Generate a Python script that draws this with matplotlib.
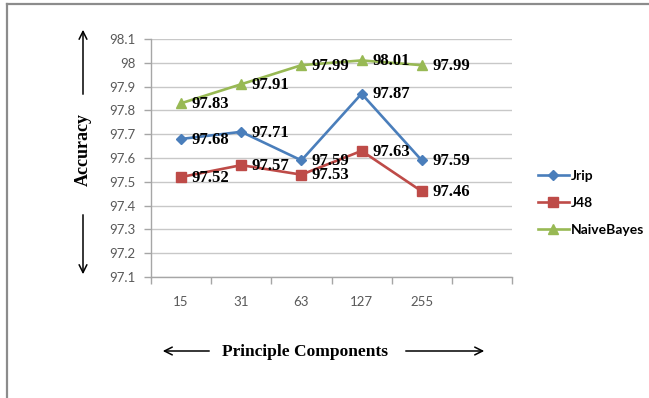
import matplotlib
matplotlib.use("Agg")
import matplotlib.pyplot as plt
from matplotlib.lines import Line2D

# Data
components = ["15", "31", "63", "127", "255", ""]
jrip = [97.68, 97.71, 97.59, 97.87, 97.59]
j48 = [97.52, 97.57, 97.53, 97.63, 97.46]
naive_bayes = [97.83, 97.91, 97.99, 98.01, 97.99]
series_names = ["Jrip", "J48", "NaiveBayes"]
y_ticks = [97.1, 97.2, 97.3, 97.4, 97.5, 97.6, 97.7, 97.8, 97.9, 98.0, 98.1]
y_tick_labels = ["97.1", "97.2", "97.3", "97.4", "97.5", "97.6", "97.7", "97.8", "97.9", "98", "98.1"]

W, H = 649, 398
fig = plt.figure(figsize=(W / 100, H / 100), dpi=100)
fig.patch.set_facecolor("white")

def fx(px):
    return px / W

def fy(py):
    return 1 - py / H

# Outer frame (top and left edges)
fig.add_artist(Line2D([fx(7), 1.0], [fy(4), fy(4)], color="#8c8c8c", lw=1.6))
fig.add_artist(Line2D([fx(7), fx(7)], [fy(4), 0.0], color="#8c8c8c", lw=1.6))

ax = fig.add_axes([fx(151), fy(277), fx(512) - fx(151), fy(39) - fy(277)])
ax.set_facecolor("white")

colors = {"Jrip": "#4a7ebb", "J48": "#be4b48", "NaiveBayes": "#98b954"}
markers = {"Jrip": ("D", 5), "J48": ("s", 7), "NaiveBayes": ("^", 7.5)}
data = {"Jrip": jrip, "J48": j48, "NaiveBayes": naive_bayes}

xs = list(range(len(jrip)))
for name in series_names:
    m, ms = markers[name]
    ax.plot(xs, data[name], color=colors[name], lw=1.9, marker=m, ms=ms,
            markeredgecolor=colors[name], label=name, zorder=3)
    for x, v in zip(xs, data[name]):
        ax.annotate(f"{v:.2f}", (x, v), xytext=(7.5, -0.5), textcoords="offset points",
                    ha="left", va="center", fontsize=12, fontweight="bold",
                    family="Liberation Serif", color="black", zorder=4)

ax.set_xlim(-0.5, len(components) - 0.5)
ax.set_ylim(97.1, 98.1)
ax.set_yticks(y_ticks)
ax.set_yticklabels(y_tick_labels)
ax.yaxis.grid(True, color="#c8c8c8", lw=1.0)
ax.set_axisbelow(True)

# Category ticks sit between categories; labels centred on each category
ax.set_xticks([i - 0.5 for i in range(len(components) + 1)])
ax.set_xticklabels([])
ax.set_xticks(range(len(components)), minor=True)
ax.set_xticklabels(components, minor=True)
ax.tick_params(axis="x", which="minor", length=0, pad=14)
ax.tick_params(axis="x", which="major", length=5, color="#a6a6a6", width=1)
ax.tick_params(axis="y", length=5, color="#a6a6a6", width=1, pad=6)
for lbl in ax.get_xticklabels(minor=True) + ax.get_yticklabels():
    lbl.set_family("Lato")
    lbl.set_fontsize(9.5)
    lbl.set_color("#595959")

for side in ("top", "right"):
    ax.spines[side].set_visible(False)
for side in ("left", "bottom"):
    ax.spines[side].set_color("#a6a6a6")
    ax.spines[side].set_linewidth(1)

# Legend
leg = ax.legend(loc="center left", bbox_to_anchor=(fx(524) / (fx(512) - fx(151)) - fx(151) / (fx(512) - fx(151)), 0.5),
                frameon=False, handlelength=2.3, handletextpad=0.1, labelspacing=1.1,
                prop={"family": "Lato", "weight": "bold", "size": 10})
leg.set_bbox_to_anchor((fx(525), fy(203)), transform=fig.transFigure)

# Axis titles with arrows
fig.text(fx(83), fy(150), "Accuracy", rotation=90, ha="center", va="center",
         family="Liberation Serif", fontweight="bold", fontsize=13)
arrow = dict(arrowstyle="->", color="black", lw=1.1, mutation_scale=14)
fig.add_artist(matplotlib.patches.FancyArrowPatch((fx(83), fy(97)), (fx(83), fy(27)),
                                                  transform=fig.transFigure, **arrow))
fig.add_artist(matplotlib.patches.FancyArrowPatch((fx(83), fy(212)), (fx(83), fy(277)),
                                                  transform=fig.transFigure, **arrow))

fig.text(fx(305), fy(352), "Principle Components", ha="center", va="center",
         family="Liberation Serif", fontweight="bold", fontsize=12.5)
fig.add_artist(matplotlib.patches.FancyArrowPatch((fx(212), fy(351)), (fx(160), fy(351)),
                                                  transform=fig.transFigure, **arrow))
fig.add_artist(matplotlib.patches.FancyArrowPatch((fx(403), fy(351)), (fx(487), fy(351)),
                                                  transform=fig.transFigure, **arrow))

fig.savefig("out.png", dpi=100, facecolor="white")
